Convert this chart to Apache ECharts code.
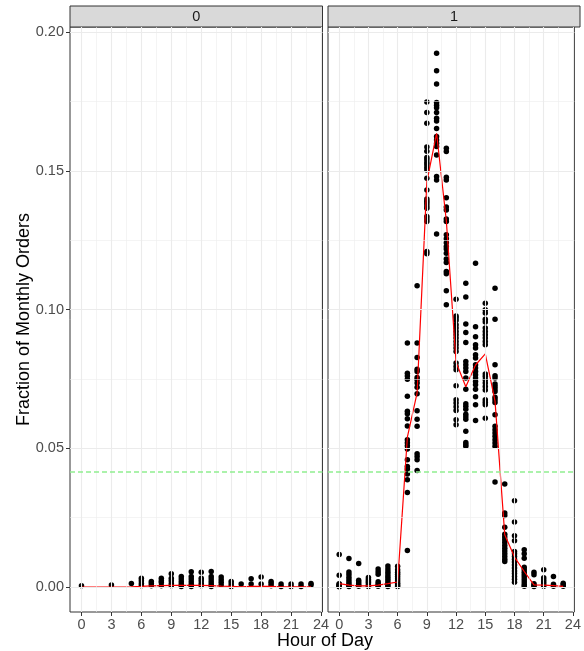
<!DOCTYPE html>
<html>
<head>
<meta charset="utf-8">
<script src="https://cdn.jsdelivr.net/npm/echarts@6/dist/echarts.min.js"></script>
<style>
  html, body { margin: 0; padding: 0; background: #ffffff; }
  #chart { width: 584px; height: 651px; }
</style>
</head>
<body>
<div id="chart"></div>
<script>
// facet labels, axis ticks
const facets = ['0', '1'];
const hours = [0, 1, 2, 3, 4, 5, 6, 7, 8, 9, 10, 11, 12, 13, 14, 15, 16, 17, 18, 19, 20, 21, 22, 23];
const xTicks = [0, 3, 6, 9, 12, 15, 18, 21, 24];
const xMinor = [1.5, 4.5, 7.5, 10.5, 13.5, 16.5, 19.5, 22.5];
const yTicks = [0, 0.05, 0.10, 0.15, 0.20];
const yMinor = [0.025, 0.075, 0.125, 0.175];
const refLevel = 0.0417;

// facet "0": monthly fractions per hour (empty = no points)
const pts0 = [
  [0.0005], [], [], [0.0007], [], [0.0013],
  [0.0032, 0.0023, 0.0013, 0.0005],
  [0.0020, 0.0013, 0.0005],
  [0.0032, 0.0023, 0.0016, 0.0005],
  [0.0048, 0.0032, 0.0023, 0.0013, 0.0005],
  [0.0038, 0.0029, 0.0019, 0.0010, 0.0002],
  [0.0055, 0.0038, 0.0029, 0.0019, 0.0010, 0.0002],
  [0.0053, 0.0032, 0.0023, 0.0013, 0.0005],
  [0.0056, 0.0038, 0.0029, 0.0019, 0.0010, 0.0002],
  [0.0036, 0.0026, 0.0017, 0.0007],
  [0.0020, 0.0011, 0.0002],
  [0.0011],
  [0.0030, 0.0011],
  [0.0036, 0.0011],
  [0.0020, 0.0013, 0.0005],
  [0.0011, 0.0002],
  [0.0011, 0.0002],
  [0.0011, 0.0002],
  [0.0013, 0.0007]
];
const mean0 = [0.0000, null, null, 0.0000, null, 0.0001, 0.0002, 0.0004, 0.0005, 0.0006, 0.0006, 0.0006,
  0.0006, 0.0005, 0.0003, 0.0002, 0.0001, 0.0002, 0.0002, 0.0002, 0.0001, 0.0001, 0.0001, 0.0001];

// facet "1"
const pts1 = [
  [0.0117, 0.0042, 0.0012, 0.0010, 0.0007, 0.0004, 0.0002, 0.0001],
  [0.0103, 0.0054, 0.0045, 0.0035, 0.0026, 0.0018, 0.0011, 0.0005, 0.0002],
  [0.0085, 0.0024, 0.0018, 0.0012, 0.0006, 0.0003],
  [0.0034, 0.0027, 0.0022, 0.0017, 0.0011, 0.0005, 0.0002],
  [0.0065, 0.0055, 0.0046, 0.0019, 0.0012, 0.0006, 0.0003],
  [0.0076, 0.0065, 0.0055, 0.0047, 0.0038, 0.0030, 0.0022, 0.0014, 0.0007, 0.0002],
  [0.0075, 0.0062, 0.0053, 0.0046, 0.0038, 0.0030, 0.0022, 0.0014, 0.0007, 0.0002],
  [0.0879, 0.0770, 0.0760, 0.0749, 0.0687, 0.0633, 0.0624, 0.0606, 0.0580, 0.0531, 0.0520, 0.0509,
   0.0497, 0.0459, 0.0434, 0.0425, 0.0407, 0.0387, 0.0341, 0.0132],
  [0.1086, 0.0879, 0.0827, 0.0785, 0.0777, 0.0755, 0.0747, 0.0735, 0.0720, 0.0696, 0.0635, 0.0605,
   0.0579, 0.0480, 0.0470, 0.0459, 0.0420],
  [0.1748, 0.1710, 0.1671, 0.1586, 0.1570, 0.1548, 0.1540, 0.1530, 0.1522, 0.1512, 0.1503, 0.1473,
   0.1431, 0.1398, 0.1390, 0.1382, 0.1373, 0.1365, 0.1335, 0.1326, 0.1317, 0.1209, 0.1201],
  [0.1923, 0.1860, 0.1813, 0.1746, 0.1736, 0.1727, 0.1710, 0.1689, 0.1679, 0.1652, 0.1623, 0.1611,
   0.1599, 0.1587, 0.1557, 0.1479, 0.1467, 0.1272],
  [0.1581, 0.1569, 0.1477, 0.1467, 0.1403, 0.1369, 0.1359, 0.1326, 0.1317, 0.1269, 0.1255, 0.1241,
   0.1227, 0.1218, 0.1203, 0.1182, 0.1169, 0.1137, 0.1129, 0.1068, 0.1017],
  [0.1037, 0.0977, 0.0969, 0.0960, 0.0945, 0.0933, 0.0921, 0.0909, 0.0897, 0.0885, 0.0873, 0.0861,
   0.0849, 0.0807, 0.0795, 0.0783, 0.0725, 0.0675, 0.0663, 0.0650, 0.0636, 0.0603, 0.0585],
  [0.1095, 0.1045, 0.0948, 0.0917, 0.0881, 0.0813, 0.0801, 0.0789, 0.0777, 0.0753, 0.0713, 0.0660,
   0.0651, 0.0641, 0.0623, 0.0614, 0.0605, 0.0561, 0.0521, 0.0514, 0.0507],
  [0.1167, 0.0938, 0.0902, 0.0873, 0.0861, 0.0837, 0.0825, 0.0801, 0.0789, 0.0777, 0.0765, 0.0753,
   0.0741, 0.0729, 0.0713, 0.0686, 0.0657, 0.0600],
  [0.1023, 0.0999, 0.0987, 0.0965, 0.0955, 0.0933, 0.0921, 0.0909, 0.0897, 0.0885, 0.0873, 0.0768,
   0.0759, 0.0747, 0.0735, 0.0723, 0.0710, 0.0675, 0.0666, 0.0657, 0.0608],
  [0.1077, 0.0965, 0.0801, 0.0761, 0.0753, 0.0732, 0.0723, 0.0714, 0.0705, 0.0684, 0.0675, 0.0665,
   0.0621, 0.0579, 0.0567, 0.0555, 0.0543, 0.0531, 0.0519, 0.0507, 0.0378],
  [0.0371, 0.0267, 0.0258, 0.0215, 0.0190, 0.0180, 0.0170, 0.0160, 0.0150, 0.0140, 0.0130, 0.0120,
   0.0110, 0.0100, 0.0092],
  [0.0311, 0.0234, 0.0185, 0.0167, 0.0128, 0.0120, 0.0110, 0.0100, 0.0090, 0.0079, 0.0069, 0.0058,
   0.0049, 0.0038, 0.0028, 0.0017],
  [0.0134, 0.0120, 0.0104, 0.0071, 0.0062, 0.0053, 0.0044, 0.0036, 0.0027, 0.0018, 0.0009, 0.0003],
  [0.0053, 0.0044, 0.0012, 0.0006, 0.0002],
  [0.0062, 0.0033, 0.0025, 0.0018, 0.0011, 0.0003],
  [0.0038, 0.0010, 0.0003],
  [0.0014, 0.0008, 0.0003]
];
const mean1 = [0.0012, 0.0007, 0.0004, 0.0004, 0.0007, 0.0012, 0.0018, 0.0540, 0.0700, 0.1460, 0.1635, 0.1320,
  0.0810, 0.0722, 0.0800, 0.0840, 0.0670, 0.0188, 0.0108, 0.0056, 0.0008, 0.0007, 0.0005, 0.0002];

const FONT = '"Liberation Sans", Arial, sans-serif';
const panels = [
  {left: 70, width: 252.5},
  {left: 328, width: 252}
];
const panelTop = 27, panelHeight = 585;

function pointsOf(pts) {
  let out = [];
  hours.forEach(function (h, i) {
    pts[i].forEach(function (v) { out.push([h, v]); });
  });
  return out;
}
function lineOf(means) {
  let out = [];
  hours.forEach(function (h, i) {
    if (means[i] !== null) out.push([h, means[i]]);
  });
  return out;
}

let grids = [], xAxes = [], yAxes = [], series = [], graphics = [];
let allPts = [pts0, pts1], allMeans = [mean0, mean1];

panels.forEach(function (p, k) {
  grids.push({
    left: p.left, top: panelTop, width: p.width, height: panelHeight,
    show: true, backgroundColor: '#ffffff', borderColor: '#333333', borderWidth: 1
  });
  xAxes.push({
    gridIndex: k, type: 'value', min: -1.15, max: 24.15,
    axisLine: {show: false, onZero: false},
    axisTick: {show: true, customValues: xTicks, length: 4, lineStyle: {color: '#333333', width: 1}},
    axisLabel: {customValues: xTicks, color: '#4D4D4D', fontSize: 14.5, margin: 5, fontFamily: FONT},
    splitLine: {show: false}
  });
  yAxes.push({
    gridIndex: k, type: 'value', min: -0.009, max: 0.2018,
    axisLine: {show: false, onZero: false},
    axisTick: {show: k === 0, customValues: yTicks, length: 4, lineStyle: {color: '#333333', width: 1}},
    axisLabel: {
      show: k === 0, customValues: yTicks, color: '#4D4D4D', fontSize: 14.5, margin: 6, fontFamily: FONT,
      formatter: function (v) { return v.toFixed(2); }
    },
    splitLine: {show: false}
  });

  // panel grid lines
  series.push({
    type: 'line', xAxisIndex: k, yAxisIndex: k, data: [], silent: true, z: 1,
    markLine: {
      silent: true, symbol: 'none', animation: false, label: {show: false}, precision: 5,
      lineStyle: {color: '#EDEDED', width: 0.6, type: 'solid'},
      emphasis: {disabled: true},
      data: xMinor.map(function (x) { return {xAxis: x}; })
        .concat(yMinor.map(function (y) { return {yAxis: y}; }))
    }
  });
  series.push({
    type: 'line', xAxisIndex: k, yAxisIndex: k, data: [], silent: true, z: 1,
    markLine: {
      silent: true, symbol: 'none', animation: false, label: {show: false}, precision: 5,
      lineStyle: {color: '#EBEBEB', width: 1.1, type: 'solid'},
      emphasis: {disabled: true},
      data: xTicks.map(function (x) { return {xAxis: x}; })
        .concat(yTicks.map(function (y) { return {yAxis: y}; }))
    }
  });

  series.push({
    type: 'scatter', xAxisIndex: k, yAxisIndex: k, z: 3,
    symbol: 'circle', symbolSize: 5.5,
    itemStyle: {color: '#000000', opacity: 1},
    data: pointsOf(allPts[k])
  });
  series.push({
    type: 'line', xAxisIndex: k, yAxisIndex: k, z: 4,
    symbol: 'none', lineStyle: {color: '#FF0000', width: 1.2},
    data: lineOf(allMeans[k])
  });
  series.push({
    type: 'line', xAxisIndex: k, yAxisIndex: k, data: [], z: 5,
    markLine: {
      silent: true, symbol: 'none', animation: false, label: {show: false}, precision: 5,
      lineStyle: {color: '#90EE90', width: 1.7, type: [5, 3]},
      data: [{yAxis: refLevel}]
    }
  });

  graphics.push({
    type: 'rect', shape: {x: p.left, y: 6, width: p.width, height: 21},
    style: {fill: '#D9D9D9', stroke: '#333333', lineWidth: 1}
  });
  graphics.push({
    type: 'text', x: p.left + p.width / 2, y: 16.5,
    style: {text: facets[k], fill: '#1A1A1A', fontSize: 14.5, fontFamily: FONT,
      textAlign: 'center', textVerticalAlign: 'middle'}
  });
});

graphics.push({
  type: 'text', x: 325, y: 641,
  style: {text: 'Hour of Day', fill: '#000000', fontSize: 18, fontFamily: FONT,
    textAlign: 'center', textVerticalAlign: 'middle'}
});
graphics.push({
  type: 'text', x: 24, y: 319.5, rotation: Math.PI / 2,
  style: {text: 'Fraction of Monthly Orders', fill: '#000000', fontSize: 18, fontFamily: FONT,
    textAlign: 'center', textVerticalAlign: 'middle'}
});

const chart = echarts.init(document.getElementById('chart'), null, {renderer: 'canvas'});
chart.setOption({
  animation: false,
  backgroundColor: '#ffffff',
  grid: grids,
  xAxis: xAxes,
  yAxis: yAxes,
  series: series,
  graphic: graphics
});
</script>
</body>
</html>
